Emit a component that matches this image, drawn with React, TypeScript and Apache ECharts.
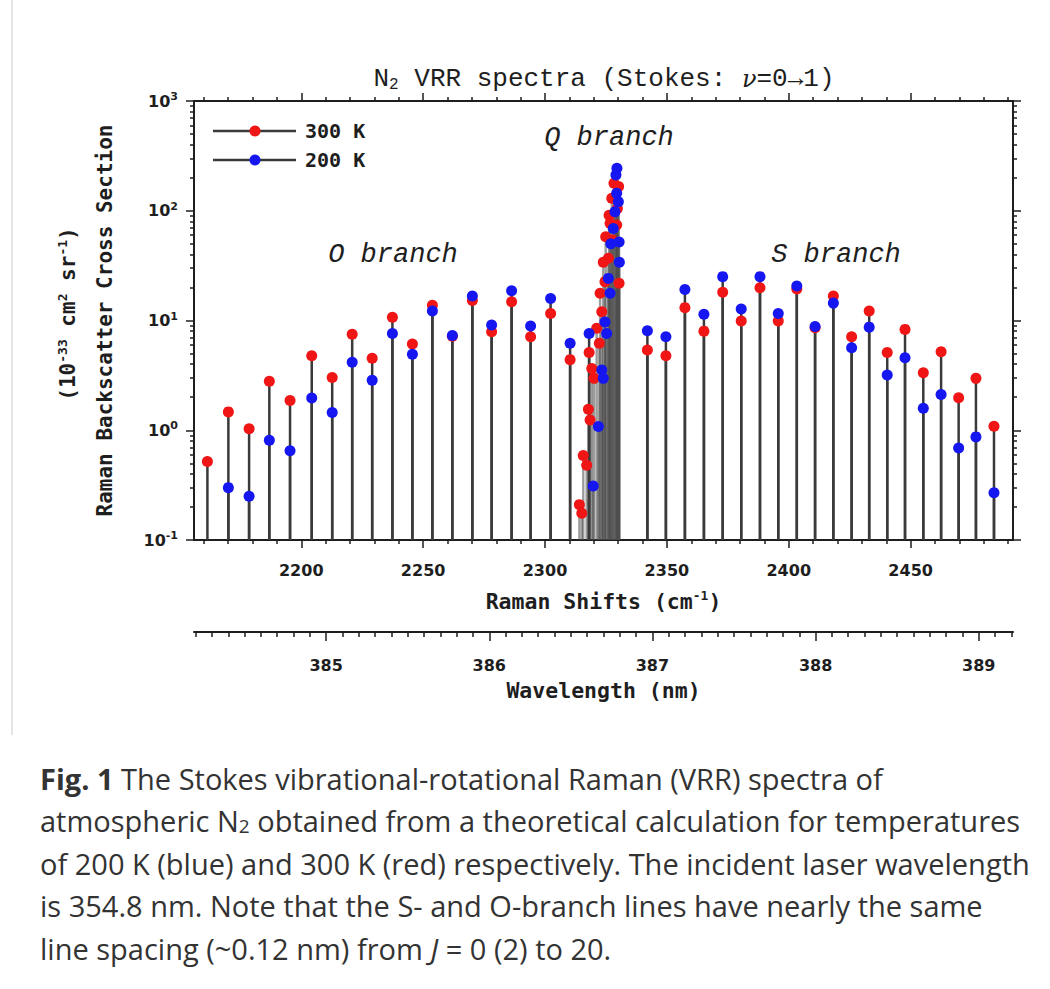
import React, { useEffect, useRef } from "react";
import * as echarts from "echarts";

// ---------------- data ----------------
const oBranchShift = [2161.5, 2170.1, 2178.6, 2186.9, 2195.4, 2204.3, 2212.7, 2220.9, 2229.1, 2237.4, 2245.6, 2253.8, 2262.0, 2270.2, 2278.1, 2286.3, 2294.1, 2302.3, 2310.3, 2318.1];
const oBranch300K = [0.52, 1.47, 1.03, 2.8, 1.87, 4.78, 3.03, 7.5, 4.52, 10.7, 6.1, 13.8, 7.2, 15.2, 7.9, 14.8, 7.1, 11.6, 4.4, 5.1];
const oBranch200K = [null, 0.3, 0.25, 0.81, 0.65, 1.97, 1.45, 4.16, 2.85, 7.6, 4.92, 12.2, 7.3, 16.7, 9.1, 18.7, 8.9, 15.9, 6.2, 7.6];

const sBranchShift = [2342.0, 2349.6, 2357.4, 2365.2, 2372.9, 2380.5, 2388.2, 2395.7, 2403.3, 2410.8, 2418.3, 2425.8, 2433.0, 2440.4, 2447.7, 2455.2, 2462.5, 2469.7, 2476.8, 2484.2];
const sBranch300K = [5.38, 4.78, 13.1, 8.0, 18.1, 9.9, 19.9, 9.9, 19.4, 8.6, 16.7, 7.1, 12.2, 5.1, 8.3, 3.34, 5.2, 1.98, 2.97, 1.09];
const sBranch200K = [8.07, 7.1, 19.2, 11.4, 25.1, 12.7, 25.1, 11.6, 20.6, 8.8, 14.4, 5.65, 8.7, 3.18, 4.58, 1.59, 2.12, 0.69, 0.87, 0.27];

const qBranchShift300K = [2314.1, 2315.1, 2315.7, 2317.1, 2317.8, 2318.5, 2319.2, 2320.1, 2321.2, 2322.3, 2322.6, 2323.3, 2323.9, 2324.6, 2324.9, 2326.0, 2326.3, 2326.7, 2327.4, 2327.7, 2328.3, 2329.4, 2329.7, 2330.2, 2330.4];
const qBranch300K = [0.21, 0.175, 0.59, 0.48, 1.55, 1.24, 3.66, 2.97, 8.5, 6.2, 17.7, 12.0, 34, 22.6, 58, 37, 91, 77, 130, 54, 178, 74, 105, 166, 21.8];
const qBranchShift200K = [2319.8, 2321.9, 2323.3, 2323.9, 2324.6, 2325.3, 2326.0, 2326.7, 2327.0, 2328.0, 2328.7, 2329.1, 2329.4, 2329.5, 2330.1, 2330.4, 2330.5];
const qBranch200K = [0.31, 1.08, 3.54, 2.97, 9.7, 7.6, 24.2, 17.7, 50, 69, 98, 212, 144, 244, 121, 52, 34];

// axis ticks
const shiftTickLabels = [2200, 2250, 2300, 2350, 2400, 2450];
const wavelengthTickLabels = [385, 386, 387, 388, 389];
const yDecadeTicks = [0.1, 1, 10, 100, 1000];

const SHIFT_MIN = 2156;
const SHIFT_MAX = 2492;
const WL_MIN = 384.19;
const WL_MAX = 389.21;
const Y_MIN = 0.1;
const Y_MAX = 1000;

const captionLines = [
  "{b|Fig. 1} The Stokes vibrational-rotational Raman (VRR) spectra of",
  "atmospheric N{sub|2} obtained from a theoretical calculation for temperatures",
  "of 200 K (blue) and 300 K (red) respectively. The incident laser wavelength",
  "is 354.8 nm. Note that the S- and O-branch lines have nearly the same",
  "line spacing (~0.12 nm) from {i|J} = 0 (2) to 20.",
];

// ---------------- helpers ----------------
const pairs = (xs: number[], ys: (number | null)[]) =>
  xs.map((x, i) => [x, ys[i]]).filter((p) => p[1] != null) as number[][];

const shiftMinor: number[] = [];
for (let v = 2160; v <= 2490; v += 10) if (v % 50 !== 0) shiftMinor.push(v);
const wlMinor: number[] = [];
for (let k = 3842; k <= 3892; k++) if (k % 10 !== 0) wlMinor.push(k / 10);
const yMinor: number[] = [];
for (let e = -1; e <= 2; e++) for (let k = 2; k <= 9; k++) yMinor.push(Number((k * Math.pow(10, e)).toPrecision(3)));

const INK = "#1e1e1e";
const RED = "#f01616";
const BLUE = "#1616f0";
const STEM = "#3a3a3a";
const MONO = "DejaVu Sans Mono";
const SANS = "DejaVu Sans";
const CAP = "#333333";

function stem(color: string, width: number, opacity: number) {
  return (_params: any, api: any) => {
    const x = api.value(0);
    const v = api.value(1);
    const top = api.coord([x, v]);
    const base = api.coord([x, Y_MIN]);
    return {
      type: "line",
      silent: true,
      shape: { x1: top[0], y1: top[1], x2: base[0], y2: base[1] },
      style: { stroke: color, lineWidth: width, opacity },
    };
  };
}

function buildOption() {
  const red = [...pairs(oBranchShift, oBranch300K), ...pairs(sBranchShift, sBranch300K)];
  const blue = [...pairs(oBranchShift, oBranch200K), ...pairs(sBranchShift, sBranch200K)];
  const redQ = pairs(qBranchShift300K, qBranch300K);
  const blueQ = pairs(qBranchShift200K, qBranch200K);

  const grid = { left: 194, top: 101, width: 819, height: 439 };
  const lineStyle = { color: INK, width: 2 };
  const tickStyle = { color: INK, width: 1.5 };
  const labelFont = { fontFamily: SANS, fontWeight: "bold", fontSize: 16, color: INK };
  const plain = (v: number) => String(v);

  const legendY = [131, 160];

  const graphic: any[] = [
    // left border of the figure frame
    { type: "line", shape: { x1: 12, y1: 0, x2: 12, y2: 735 }, style: { stroke: "#dcdcdc", lineWidth: 1.5 } },
    // title
    {
      type: "text",
      x: 604,
      y: 79,
      style: {
        text: "{n|N}{s|2}{n| VRR spectra (Stokes: }{g|ν}{n|=0→1)}",
        align: "center",
        verticalAlign: "middle",
        rich: {
          n: { fontFamily: "Liberation Mono", fontSize: 26, fill: INK, color: INK, lineHeight: 28 },
          g: { fontFamily: "DejaVu Serif", fontStyle: "italic", fontSize: 24, fill: INK, color: INK, lineHeight: 28 },
          s: { fontFamily: "Liberation Mono", fontSize: 16, fill: INK, color: INK, verticalAlign: "bottom", lineHeight: 16 },
        },
      },
    },
    // legend
    ...[0, 1].map((i) => ({
      type: "line",
      shape: { x1: 213, y1: legendY[i], x2: 296, y2: legendY[i] },
      style: { stroke: STEM, lineWidth: 2.5 },
    })),
    { type: "circle", shape: { cx: 255, cy: legendY[0], r: 5.5 }, style: { fill: RED } },
    { type: "circle", shape: { cx: 255, cy: legendY[1], r: 5.5 }, style: { fill: BLUE } },
    {
      type: "text",
      x: 305,
      y: legendY[0],
      style: { text: "300 K", fontFamily: MONO, fontWeight: "bold", fontSize: 20, fill: INK, align: "left", verticalAlign: "middle" },
    },
    {
      type: "text",
      x: 305,
      y: legendY[1],
      style: { text: "200 K", fontFamily: MONO, fontWeight: "bold", fontSize: 20, fill: INK, align: "left", verticalAlign: "middle" },
    },
    // branch labels
    ...[
      { t: "O branch", x: 393, y: 255 },
      { t: "Q branch", x: 609, y: 138 },
      { t: "S branch", x: 836, y: 255 },
    ].map((b) => ({
      type: "text",
      x: b.x,
      y: b.y,
      style: {
        text: b.t,
        fontFamily: "Liberation Mono",
        fontStyle: "italic",
        fontSize: 27,
        fill: INK,
        align: "center",
        verticalAlign: "middle",
      },
    })),
    // y-axis unit line
    {
      type: "text",
      x: 68,
      y: 314,
      rotation: Math.PI / 2,
      style: {
        text: "{u|(10}{p|-33}{u| cm}{p|2}{u| sr}{p|-1}{u|)}",
        align: "center",
        verticalAlign: "middle",
        rich: {
          u: { fontFamily: MONO, fontWeight: "bold", fontSize: 21, fill: INK, color: INK, lineHeight: 25 },
          p: { fontFamily: MONO, fontWeight: "bold", fontSize: 13, fill: INK, color: INK, verticalAlign: "top", lineHeight: 12 },
        },
      },
    },
    // caption
    ...captionLines.map((line, i) => ({
      type: "text",
      x: 40,
      y: 778 + i * 42.5,
      style: {
        text: line,
        align: "left",
        verticalAlign: "middle",
        fontFamily: "Open Sans",
        fontSize: 29,
        fill: CAP,
        rich: {
          b: { fontFamily: "Open Sans", fontWeight: "bold", fontSize: 29, fill: CAP, color: CAP, lineHeight: 34 },
          i: { fontFamily: "Open Sans", fontStyle: "italic", fontSize: 29, fill: CAP, color: CAP, lineHeight: 34 },
          sub: { fontFamily: "Open Sans", fontSize: 19, fill: CAP, color: CAP, verticalAlign: "bottom", lineHeight: 12 },
        },
      },
    })),
  ];

  return {
    animation: false,
    backgroundColor: "#ffffff",
    grid: [
      { ...grid, containLabel: false, outerBoundsMode: "none" },
      { ...grid, containLabel: false, outerBoundsMode: "none" },
      { left: 194, width: 819, top: 631, height: 1, containLabel: false, outerBoundsMode: "none" },
      { left: 194, width: 819, top: 631, height: 1, containLabel: false, outerBoundsMode: "none" },
    ],
    xAxis: [
      {
        gridIndex: 0,
        type: "value",
        position: "bottom",
        min: SHIFT_MIN,
        max: SHIFT_MAX,
        axisLine: { show: true, onZero: false, lineStyle },
        axisTick: { show: true, inside: false, length: 8, customValues: shiftTickLabels, lineStyle: tickStyle },
        axisLabel: { show: true, customValues: shiftTickLabels, margin: 22, formatter: plain, ...labelFont },
        splitLine: { show: false },
        name: "{n|Raman Shifts (cm}{p|-1}{n|)}",
        nameLocation: "middle",
        nameGap: 49,
        nameTextStyle: {
          rich: {
            n: { fontFamily: MONO, fontWeight: "bold", fontSize: 21.5, color: INK, lineHeight: 25 },
            p: { fontFamily: MONO, fontWeight: "bold", fontSize: 13, color: INK, verticalAlign: "top", lineHeight: 12 },
          },
        },
      },
      {
        gridIndex: 0,
        type: "value",
        position: "top",
        min: SHIFT_MIN,
        max: SHIFT_MAX,
        axisLine: { show: true, onZero: false, lineStyle },
        axisTick: { show: true, inside: false, length: 8, customValues: shiftTickLabels, lineStyle: tickStyle },
        axisLabel: { show: false },
        splitLine: { show: false },
      },
      {
        gridIndex: 1,
        type: "value",
        position: "bottom",
        min: SHIFT_MIN,
        max: SHIFT_MAX,
        axisLine: { show: false, onZero: false },
        axisTick: { show: true, inside: false, length: 4, customValues: shiftMinor, lineStyle: tickStyle },
        axisLabel: { show: false },
        splitLine: { show: false },
      },
      {
        gridIndex: 1,
        type: "value",
        position: "top",
        min: SHIFT_MIN,
        max: SHIFT_MAX,
        axisLine: { show: false, onZero: false },
        axisTick: { show: true, inside: false, length: 4, customValues: shiftMinor, lineStyle: tickStyle },
        axisLabel: { show: false },
        splitLine: { show: false },
      },
      {
        gridIndex: 2,
        type: "value",
        position: "bottom",
        min: WL_MIN,
        max: WL_MAX,
        axisLine: { show: true, onZero: false, lineStyle },
        axisTick: { show: true, inside: false, length: 9, customValues: wavelengthTickLabels, lineStyle: tickStyle },
        axisLabel: { show: true, customValues: wavelengthTickLabels, margin: 25, formatter: plain, ...labelFont },
        splitLine: { show: false },
        name: "Wavelength (nm)",
        nameLocation: "middle",
        nameGap: 47,
        nameTextStyle: { fontFamily: MONO, fontWeight: "bold", fontSize: 21.5, color: INK },
      },
      {
        gridIndex: 3,
        type: "value",
        position: "bottom",
        min: WL_MIN,
        max: WL_MAX,
        axisLine: { show: false, onZero: false },
        axisTick: { show: true, inside: false, length: 5, customValues: wlMinor, lineStyle: tickStyle },
        axisLabel: { show: false },
        splitLine: { show: false },
      },
    ],
    yAxis: [
      {
        gridIndex: 0,
        type: "log",
        logBase: 10,
        position: "left",
        min: Y_MIN,
        max: Y_MAX,
        axisLine: { show: true, onZero: false, lineStyle },
        axisTick: { show: true, inside: false, length: 8, customValues: yDecadeTicks, lineStyle: tickStyle },
        axisLabel: {
          show: true,
          customValues: yDecadeTicks,
          margin: 16,
          formatter: (v: number) => "{b|10}{p|" + Math.round(Math.log10(v)) + "}",
          rich: {
            b: { fontFamily: SANS, fontWeight: "bold", fontSize: 16, color: INK, lineHeight: 20 },
            p: { fontFamily: SANS, fontWeight: "bold", fontSize: 11, color: INK, verticalAlign: "top", lineHeight: 11 },
          },
        },
        splitLine: { show: false },
        name: "Raman Backscatter Cross Section",
        nameLocation: "middle",
        nameRotate: 90,
        nameGap: 79,
        nameTextStyle: { fontFamily: MONO, fontWeight: "bold", fontSize: 21, color: INK },
      },
      {
        gridIndex: 0,
        type: "log",
        logBase: 10,
        position: "right",
        min: Y_MIN,
        max: Y_MAX,
        axisLine: { show: true, onZero: false, lineStyle },
        axisTick: { show: true, inside: false, length: 8, customValues: yDecadeTicks, lineStyle: tickStyle },
        axisLabel: { show: false },
        splitLine: { show: false },
      },
      {
        gridIndex: 1,
        type: "log",
        logBase: 10,
        position: "left",
        min: Y_MIN,
        max: Y_MAX,
        axisLine: { show: false, onZero: false },
        axisTick: { show: true, inside: false, length: 4, customValues: yMinor, lineStyle: tickStyle },
        axisLabel: { show: false },
        splitLine: { show: false },
      },
      {
        gridIndex: 1,
        type: "log",
        logBase: 10,
        position: "right",
        min: Y_MIN,
        max: Y_MAX,
        axisLine: { show: false, onZero: false },
        axisTick: { show: true, inside: false, length: 4, customValues: yMinor, lineStyle: tickStyle },
        axisLabel: { show: false },
        splitLine: { show: false },
      },
      { gridIndex: 2, type: "value", show: false, min: 0, max: 1 },
      { gridIndex: 3, type: "value", show: false, min: 0, max: 1 },
    ],
    series: [
      {
        name: "Q stems 300 K",
        type: "custom",
        xAxisIndex: 0,
        yAxisIndex: 0,
        z: 1,
        clip: true,
        data: redQ,
        renderItem: stem("#4a4a4a", 2.4, 0.55),
      },
      {
        name: "Q stems 200 K",
        type: "custom",
        xAxisIndex: 0,
        yAxisIndex: 0,
        z: 1,
        clip: true,
        data: blueQ,
        renderItem: stem("#4a4a4a", 2.4, 0.55),
      },
      {
        name: "stems 300 K",
        type: "custom",
        xAxisIndex: 0,
        yAxisIndex: 0,
        z: 2,
        clip: true,
        data: red,
        renderItem: stem(STEM, 2.5, 1),
      },
      {
        name: "stems 200 K",
        type: "custom",
        xAxisIndex: 0,
        yAxisIndex: 0,
        z: 2,
        clip: true,
        data: blue,
        renderItem: stem(STEM, 2.5, 1),
      },
      {
        name: "300 K",
        type: "scatter",
        xAxisIndex: 0,
        yAxisIndex: 0,
        z: 3,
        symbol: "circle",
        symbolSize: 11,
        itemStyle: { color: RED, opacity: 1 },
        data: [...red, ...redQ],
      },
      {
        name: "200 K",
        type: "scatter",
        xAxisIndex: 0,
        yAxisIndex: 0,
        z: 4,
        symbol: "circle",
        symbolSize: 11,
        itemStyle: { color: BLUE, opacity: 1 },
        data: [...blue, ...blueQ],
      },
    ],
    graphic,
  };
}

export default function App() {
  const ref = useRef<HTMLDivElement>(null);
  useEffect(() => {
    document.body.style.margin = "0";
    document.body.style.overflow = "hidden";
    const chart = echarts.init(ref.current as HTMLDivElement, undefined, { renderer: "svg" });
    chart.setOption(buildOption() as any);
    return () => chart.dispose();
  }, []);
  return <div ref={ref} style={{ width: 1050, height: 989, background: "#ffffff" }} />;
}
